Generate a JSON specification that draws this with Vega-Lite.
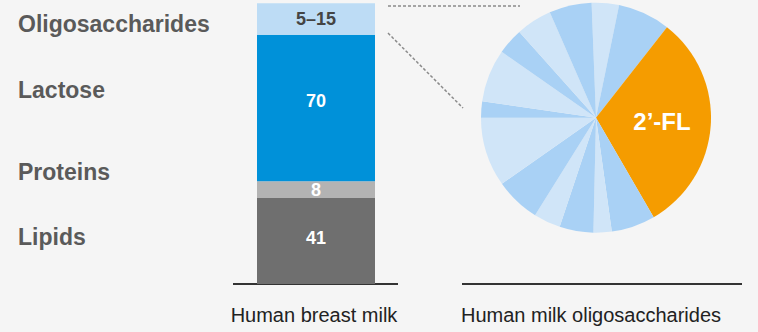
{
  "$schema": "https://vega.github.io/schema/vega-lite/v6.json",
  "width": 758,
  "height": 332,
  "autosize": "none",
  "padding": 0,
  "background": "#f5f5f5",
  "config": {"view": {"stroke": null}, "font": "Liberation Sans"},
  "datasets": {
    "baselines": [
      {"x": 233, "x2": 398, "y": 0},
      {"x": 462, "x2": 742, "y": 0}
    ],
    "connectors": [
      {"x": 388, "y": 132.7, "x2": 520, "y2": 132.7},
      {"x": 388, "y": 119.8, "x2": 463, "y2": 84.0}
    ],
    "bar": [
      {"nutrient": "Lipids", "x": 257, "x2": 375, "y": 0, "y2": 41, "label": "41", "ly": 21.5},
      {"nutrient": "Proteins", "x": 257, "x2": 375, "y": 41, "y2": 49, "label": "8", "ly": 44.4},
      {"nutrient": "Lactose", "x": 257, "x2": 375, "y": 49, "y2": 119, "label": "70", "ly": 86.9},
      {"nutrient": "Oligosaccharides", "x": 257, "x2": 375, "y": 119, "y2": 134, "label": "5–15", "ly": 126.0}
    ],
    "leftLabels": [
      {"x": 18, "y": 123.6, "text": "Oligosaccharides"},
      {"x": 18, "y": 92.1, "text": "Lactose"},
      {"x": 18, "y": 53.0, "text": "Proteins"},
      {"x": 18, "y": 22.0, "text": "Lipids"}
    ],
    "pie": [
      {"i": 1, "shade": "light", "a0": -2.2, "a1": 11.6, "x": 596, "y": 79.4},
      {"i": 2, "shade": "medium", "a0": 11.6, "a1": 38.1, "x": 596, "y": 79.4},
      {"i": 3, "shade": "orange", "a0": 38.1, "a1": 149.9, "x": 596, "y": 79.4},
      {"i": 4, "shade": "medium", "a0": 149.9, "a1": 172.1, "x": 596, "y": 79.4},
      {"i": 5, "shade": "light", "a0": 172.1, "a1": 181.3, "x": 596, "y": 79.4},
      {"i": 6, "shade": "medium", "a0": 181.3, "a1": 198.4, "x": 596, "y": 79.4},
      {"i": 7, "shade": "light", "a0": 198.4, "a1": 212.0, "x": 596, "y": 79.4},
      {"i": 8, "shade": "medium", "a0": 212.0, "a1": 234.9, "x": 596, "y": 79.4},
      {"i": 9, "shade": "light", "a0": 234.9, "a1": 270.0, "x": 596, "y": 79.4},
      {"i": 10, "shade": "medium", "a0": 270.0, "a1": 278.2, "x": 596, "y": 79.4},
      {"i": 11, "shade": "light", "a0": 278.2, "a1": 304.9, "x": 596, "y": 79.4},
      {"i": 12, "shade": "medium", "a0": 304.9, "a1": 318.2, "x": 596, "y": 79.4},
      {"i": 13, "shade": "light", "a0": 318.2, "a1": 336.3, "x": 596, "y": 79.4},
      {"i": 14, "shade": "medium", "a0": 336.3, "a1": 357.8, "x": 596, "y": 79.4}
    ],
    "pieLabel": [
      {"x": 662, "y": 76.9, "text": "2’-FL"}
    ],
    "bottomLabels": [
      {"x": 314, "y": -15.3, "text": "Human breast milk"},
      {"x": 591, "y": -15.3, "text": "Human milk oligosaccharides"}
    ]
  },
  "encoding": {
    "x": {"field": "x", "type": "quantitative", "stack": null, "axis": null,
          "scale": {"domain": [0, 758], "nice": false, "zero": false}},
    "y": {"field": "y", "type": "quantitative", "stack": null, "axis": null,
          "scale": {"domain": [-22.91, 135.57], "nice": false, "zero": false}}
  },
  "layer": [
    {
      "data": {"name": "baselines"},
      "mark": {"type": "rule", "stroke": "#333333", "strokeWidth": 2},
      "encoding": {"x2": {"field": "x2"}}
    },
    {
      "data": {"name": "connectors"},
      "mark": {"type": "rule", "stroke": "#8a8a8a", "strokeWidth": 1.5, "strokeDash": [3, 2]},
      "encoding": {"x2": {"field": "x2"}, "y2": {"field": "y2"}}
    },
    {
      "data": {"name": "bar"},
      "mark": {"type": "rect"},
      "encoding": {
        "x2": {"field": "x2"},
        "y2": {"field": "y2"},
        "color": {"field": "nutrient", "type": "nominal", "legend": null,
                  "scale": {"domain": ["Lipids", "Proteins", "Lactose", "Oligosaccharides", "light", "medium", "orange"],
                            "range": ["#6f6f6f", "#b3b3b3", "#0091d9", "#bddcf5", "#d0e5f8", "#a9d1f5", "#f59c00"]}}
      }
    },
    {
      "data": {"name": "bar"},
      "mark": {"type": "text", "fontSize": 18, "fontWeight": "bold", "align": "center", "baseline": "middle"},
      "encoding": {
        "x": {"field": "x", "type": "quantitative", "stack": null, "axis": null, "scale": {"domain": [0, 758], "nice": false, "zero": false}},
        "y": {"field": "ly", "type": "quantitative", "stack": null, "axis": null, "scale": {"domain": [-22.91, 135.57], "nice": false, "zero": false}},
        "xOffset": {"value": 59},
        "text": {"field": "label"},
        "color": {"condition": {"test": "datum.nutrient === 'Oligosaccharides'", "value": "#444444"}, "value": "#ffffff"}
      }
    },
    {
      "data": {"name": "leftLabels"},
      "mark": {"type": "text", "fontSize": 23, "fontWeight": "bold", "align": "left", "baseline": "middle", "color": "#5a5a5a"},
      "encoding": {"text": {"field": "text"}}
    },
    {
      "data": {"name": "pie"},
      "mark": {"type": "arc", "radius": 115},
      "encoding": {
        "theta": {"field": "a0", "type": "quantitative", "stack": null,
                  "scale": {"type": "linear", "domain": [0, 360], "range": [0, 6.283185], "zero": false, "nice": false}},
        "theta2": {"field": "a1"},
        "color": {"field": "shade", "type": "nominal", "legend": null},
        "order": {"field": "i"}
      }
    },
    {
      "data": {"name": "pieLabel"},
      "mark": {"type": "text", "fontSize": 24, "fontWeight": "bold", "align": "center", "baseline": "middle", "color": "#ffffff"},
      "encoding": {"text": {"field": "text"}}
    },
    {
      "data": {"name": "bottomLabels"},
      "mark": {"type": "text", "fontSize": 20, "align": "center", "baseline": "middle", "color": "#222222"},
      "encoding": {"text": {"field": "text"}}
    }
  ]
}
